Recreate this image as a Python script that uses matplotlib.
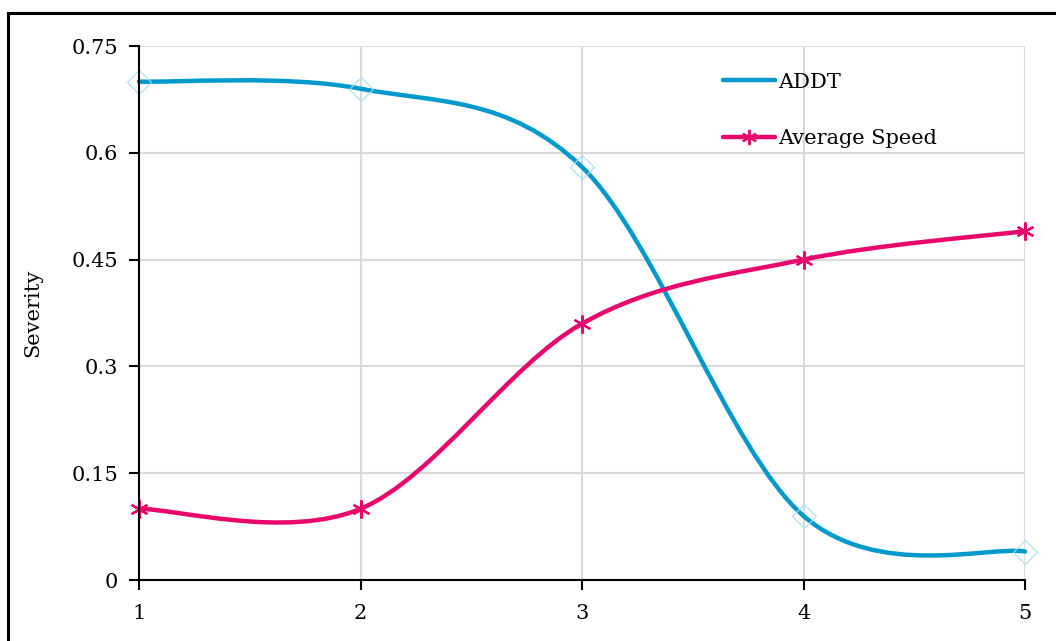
import matplotlib
matplotlib.use("Agg")
import matplotlib.pyplot as plt
from matplotlib.lines import Line2D
from matplotlib.path import Path
from matplotlib.patches import PathPatch
import numpy as np

plt.rcParams["font.family"] = ["DejaVu Serif"]

X_VALUES = [1, 2, 3, 4, 5]
ADDT = [0.70, 0.69, 0.58, 0.09, 0.04]
AVERAGE_SPEED = [0.10, 0.10, 0.36, 0.45, 0.49]
Y_TICKS = [0, 0.15, 0.3, 0.45, 0.6, 0.75]
Y_TICK_LABELS = ["0", "0.15", "0.3", "0.45", "0.6", "0.75"]

COLOR_ADDT = "#0099cc"
COLOR_ADDT_MARKER = "#a6dcf0"
COLOR_SPEED = "#e8086b"
COLOR_GRID = "#d9d9d9"
FONT_SIZE = 15


def smooth_path(xs, ys):
    """Excel 스타일 smooth line: 각 구간을 cubic bezier 로."""
    pts = np.column_stack([xs, ys]).astype(float)
    n = len(pts)
    verts = [pts[0]]
    codes = [Path.MOVETO]
    for i in range(n - 1):
        p_prev = pts[max(i - 1, 0)]
        p0 = pts[i]
        p1 = pts[i + 1]
        p_next = pts[min(i + 2, n - 1)]
        c1 = p0 + (p1 - p_prev) / 6.0
        c2 = p1 - (p_next - p0) / 6.0
        verts += [c1, c2, p1]
        codes += [Path.CURVE4] * 3
    return Path(verts, codes)


fig = plt.figure(figsize=(10.56, 6.41), dpi=100)
ax = fig.add_axes([139 / 1056, 61 / 641, 886 / 1056, 534 / 641])

ax.grid(True, color=COLOR_GRID, linewidth=1.5)
ax.set_axisbelow(True)

ax.add_patch(PathPatch(smooth_path(X_VALUES, ADDT), facecolor="none", edgecolor=COLOR_ADDT,
                       linewidth=3.2, capstyle="round", clip_on=False, zorder=3))
ax.add_patch(PathPatch(smooth_path(X_VALUES, AVERAGE_SPEED), facecolor="none", edgecolor=COLOR_SPEED,
                       linewidth=3.2, capstyle="round", clip_on=False, zorder=3))
ax.plot(X_VALUES, ADDT, linestyle="none", marker="D", markersize=12, markerfacecolor="none",
        markeredgecolor=COLOR_ADDT_MARKER, markeredgewidth=0.8, clip_on=False, zorder=4)
ax.plot(X_VALUES, AVERAGE_SPEED, linestyle="none", marker=(6, 2, 0), markersize=13,
        markeredgecolor=COLOR_SPEED, markeredgewidth=1.6, clip_on=False, zorder=4)

ax.set_xlim(1, 5)
ax.set_ylim(0, 0.75)
ax.set_xticks(X_VALUES)
ax.set_yticks(Y_TICKS)
ax.set_yticklabels(Y_TICK_LABELS)
ax.tick_params(axis="both", direction="out", length=7, width=1.5, labelsize=FONT_SIZE)
ax.tick_params(axis="x", pad=10)
ax.tick_params(axis="y", pad=8)
for side in ["top", "right"]:
    ax.spines[side].set_visible(False)
for side in ["left", "bottom"]:
    ax.spines[side].set_linewidth(1.5)
    ax.spines[side].set_zorder(5)
ax.set_ylabel("Severity", fontsize=FONT_SIZE, labelpad=21)

handles = [
    Line2D([], [], color=COLOR_ADDT, linewidth=3.2, solid_capstyle="round"),
    Line2D([], [], color=COLOR_SPEED, linewidth=3.2, solid_capstyle="round", marker=(6, 2, 0),
           markersize=11, markeredgewidth=1.4),
]
ax.legend(handles, ["ADDT", "Average Speed"], loc="upper left", bbox_to_anchor=(0.638, 0.985),
          frameon=False, fontsize=FONT_SIZE, handlelength=2.5, handletextpad=0.15, labelspacing=1.8)

# 바깥 테두리 (오른쪽/아래는 잘려 있음)
fig.add_artist(Line2D([8 / 1056, 8 / 1056], [0, 1 - 13 / 641], color="black", linewidth=2.2))
fig.add_artist(Line2D([8 / 1056, 1], [1 - 13 / 641, 1 - 13 / 641], color="black", linewidth=2.2))

fig.savefig("out.png", dpi=100)
